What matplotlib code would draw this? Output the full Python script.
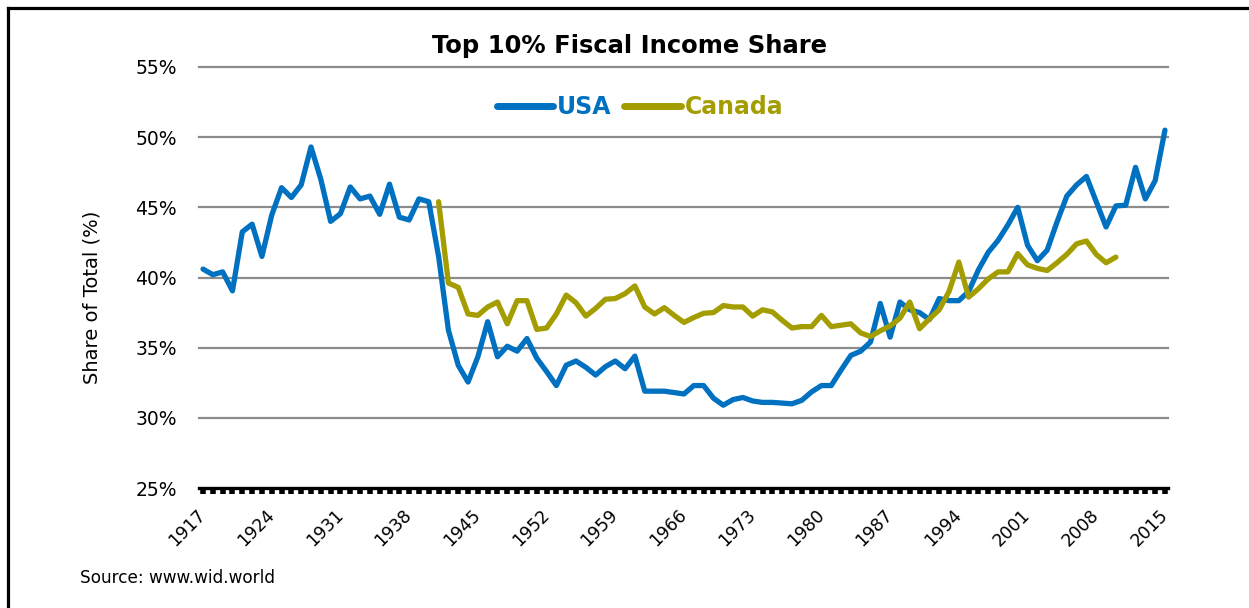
import numpy as np
import matplotlib
matplotlib.use("Agg")
import matplotlib.pyplot as plt
from matplotlib.lines import Line2D

# Top 10% fiscal income share (%)
usa_years = list(range(1917, 2016))
usa = [40.6, 40.2, 40.4, 39.05, 43.25, 43.8, 41.5, 44.45, 46.4, 45.7,
       46.6, 49.3, 47.0, 44.0, 44.55, 46.45, 45.6, 45.8, 44.5, 46.65,
       44.3, 44.1, 45.6, 45.4, 41.5, 36.25, 33.75, 32.55, 34.35, 36.85,
       34.35, 35.1, 34.75, 35.65, 34.25, 33.3, 32.3, 33.75, 34.05, 33.6,
       33.05, 33.65, 34.05, 33.5, 34.4, 31.9, 31.9, 31.9, 31.8, 31.7,
       32.3, 32.3, 31.4, 30.9, 31.3, 31.45, 31.2, 31.1, 31.1, 31.05,
       31.0, 31.25, 31.85, 32.3, 32.3, 33.4, 34.45, 34.75, 35.4, 38.15,
       35.75, 38.25, 37.7, 37.5, 37.0, 38.5, 38.35, 38.35, 39.0, 40.55,
       41.8, 42.65, 43.75, 45.0, 42.3, 41.2, 41.95, 43.95, 45.8, 46.6,
       47.2, 45.4, 43.6, 45.1, 45.15, 47.85, 45.6, 46.9, 50.5]

canada_years = list(range(1941, 2011))
canada = [45.4, 39.6, 39.3, 37.4, 37.3, 37.9, 38.25, 36.7, 38.35, 38.35,
          36.3, 36.4, 37.4, 38.75, 38.2, 37.25, 37.8, 38.45, 38.5, 38.85,
          39.4, 37.9, 37.4, 37.85, 37.3, 36.8, 37.15, 37.45, 37.5, 38.0,
          37.9, 37.9, 37.25, 37.7, 37.55, 36.95, 36.4, 36.5, 36.5, 37.3,
          36.5, 36.6, 36.7, 36.05, 35.8, 36.2, 36.55, 37.1, 38.25, 36.35,
          37.05, 37.7, 39.0, 41.1, 38.6, 39.2, 39.9, 40.4, 40.4, 41.7,
          40.9, 40.65, 40.5, 41.05, 41.65, 42.4, 42.6, 41.65, 41.05, 41.45]

y_ticks = [25, 30, 35, 40, 45, 50, 55]
label_step = 7

blue = "#0070C0"
olive = "#A39D00"

W, H = 1249, 608
fig = plt.figure(figsize=(W / 100, H / 100), dpi=100)
ax = fig.add_axes([199 / W, 1 - 488 / H, (1168 - 199) / W, (488 - 67) / H])

# grid lines
for v in y_ticks[1:]:
    ax.axhline(v, color="#8c8c8c", lw=1.6, zorder=1, clip_on=False)

ax.plot(usa_years, usa, color=blue, lw=3.8, label="USA", zorder=3,
        solid_joinstyle="round", solid_capstyle="round")
ax.plot(canada_years, canada, color=olive, lw=3.8, label="Canada", zorder=4,
        solid_joinstyle="round", solid_capstyle="round")

ax.set_xlim(1916.59, 2015.31)
ax.set_ylim(25, 55)

for s in ["left", "right", "top"]:
    ax.spines[s].set_visible(False)
ax.spines["bottom"].set_color("black")
ax.spines["bottom"].set_linewidth(2.4)
ax.spines["bottom"].set_zorder(5)

ax.set_xticks(usa_years)
ax.set_xticklabels([str(y) if (y - usa_years[0]) % label_step == 0 else ""
                    for y in usa_years],
                   rotation=45, ha="right", va="center", rotation_mode="anchor")
ax.tick_params(axis="x", direction="out", length=4.5, width=4.0,
               color="black", labelsize=12.5, pad=13)

ax.set_yticks(y_ticks)
ax.set_yticklabels([f"{v}%" for v in y_ticks])
ax.tick_params(axis="y", length=0, labelsize=13.5, pad=16)

fig.text(630 / W, 1 - 46 / H, "Top 10% Fiscal Income Share", ha="center",
         va="center", fontsize=17.5, fontweight="bold")
fig.text(92 / W, 1 - 297 / H, "Share of Total (%)", rotation=90,
         ha="center", va="center", fontsize=14)
fig.text(80 / W, 1 - 578 / H, "Source: www.wid.world", ha="left",
         va="center", fontsize=12.2)

leg = ax.legend(loc="center", bbox_to_anchor=(640 / W, 1 - 107 / H),
                bbox_transform=fig.transFigure, ncol=2, frameon=False,
                handlelength=2.4, handletextpad=0.15, columnspacing=0.55,
                prop={"size": 17, "weight": "bold"})
for txt, c in zip(leg.get_texts(), [blue, olive]):
    txt.set_color(c)
for ln in leg.get_lines():
    ln.set_linewidth(5)
    ln.set_solid_capstyle("round")

# frame around the picture (only top and left show)
fig.add_artist(Line2D([8 / W, 1], [1 - 8 / H, 1 - 8 / H], color="black", lw=2.3))
fig.add_artist(Line2D([8 / W, 8 / W], [0, 1 - 8 / H], color="black", lw=2.3))

fig.savefig("out.png", dpi=100)
